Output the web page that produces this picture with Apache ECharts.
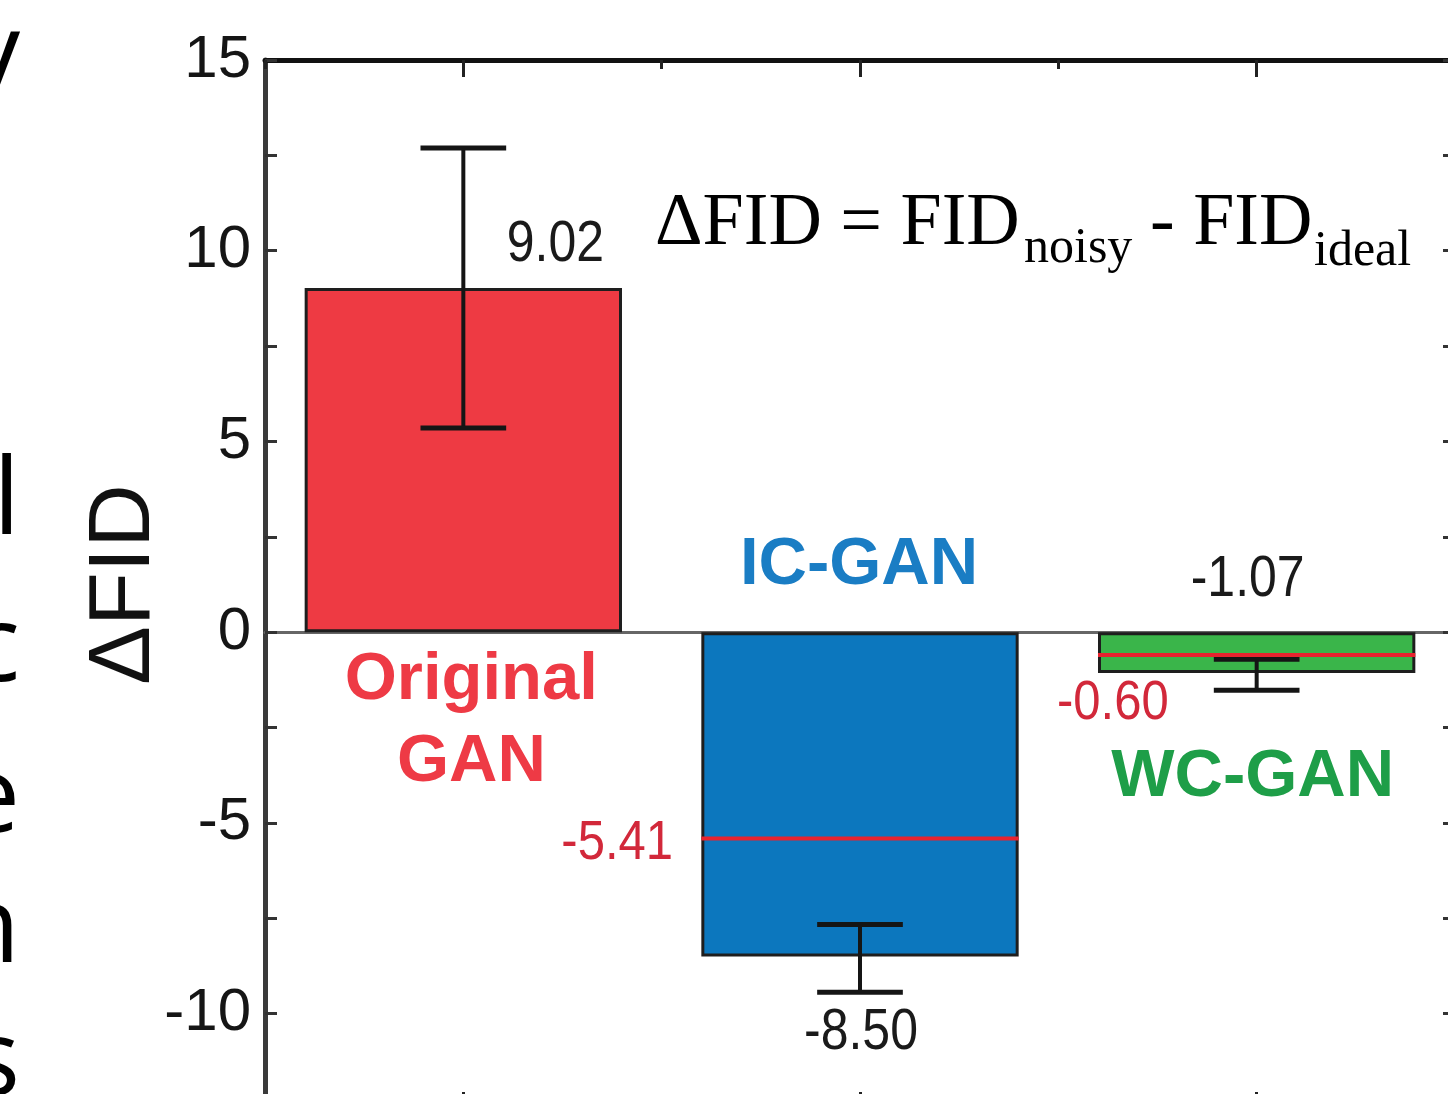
<!DOCTYPE html>
<html>
<head>
<meta charset="utf-8">
<script src="https://cdn.jsdelivr.net/npm/echarts@6/dist/echarts.min.js"></script>
<style>
html,body{margin:0;padding:0;background:#fff;overflow:hidden;width:1448px;height:1094px}
#c{width:1490px;height:1140px}
</style>
</head>
<body>
<div id="c"></div>
<script>
// ---- data ----
const categories = ['Original GAN', 'IC-GAN', 'WC-GAN'];
const deltaFID = [9.02, -8.50, -1.07];
const errLow = [5.35, -9.44, -1.52];
const errHigh = [12.69, -7.66, -0.71];
const refIndex = [1, 2];
const refValues = [-5.41, -0.60];
const valueLabels = ['9.02', '-8.50', '-1.07'];
const refLabels = ['-5.41', '-0.60'];
const categoryLabels = ['Original\nGAN', 'IC-GAN', 'WC-GAN'];
const yMin = -12.5, yMax = 15, yStep = 2.5, yLabelStep = 5;

// ---- styles / layout ----
const barColors = ['#EE3A43', '#0C77BE', '#3AB54A'];
const catColors = ['#EE3A45', '#1A7DC4', '#1E9E48'];
const valueOffset = [[92, -43], [1, 77], [-9, -93]];
const refOffset = [[-187, 5], [-88, 49]];
const catOffset = [[8, 89], [-1, -67], [-4, 145]];
const SANS = 'Arial, "Liberation Sans", sans-serif';
const SERIF = '"Times New Roman", "Liberation Serif", serif';

const chart = echarts.init(document.getElementById('c'), null, {renderer: 'canvas'});

const gridTop = 60, gridLeft = 265;
const plotH = 1049, plotW = 1190;

function xCat(extra) {
  return Object.assign({
    type: 'category', data: categories, gridIndex: 0,
    axisLabel: {show: false}, splitLine: {show: false}
  }, extra);
}

const edgeLetters = [
  {ch: 'y', base: 100}, {ch: 'l', base: 545}, {ch: 'c', base: 692},
  {ch: 'e', base: 843}, {ch: 'n', base: 973}, {ch: 's', base: 1106}
];

const option = {
  animation: false,
  backgroundColor: '#ffffff',
  grid: {left: gridLeft, top: gridTop, width: plotW, height: plotH, containLabel: false},
  xAxis: [
    xCat({position: 'top',
      axisLine: {show: true, onZero: false, lineStyle: {color: '#111', width: 5}},
      axisTick: {show: true, interval: 0, alignWithLabel: true, inside: true, length: 17, lineStyle: {color: '#222', width: 3}}}),
    xCat({position: 'top',
      axisLine: {show: false, onZero: false},
      axisTick: {show: true, interval: 0, alignWithLabel: false, inside: true, length: 9, lineStyle: {color: '#222', width: 3}}}),
    xCat({position: 'bottom',
      axisLine: {show: true, onZero: false, lineStyle: {color: '#111', width: 5}},
      axisTick: {show: true, interval: 0, alignWithLabel: true, inside: true, length: 17, lineStyle: {color: '#222', width: 3}}}),
    xCat({position: 'bottom',
      axisLine: {show: true, onZero: true, lineStyle: {color: '#666', width: 3}},
      axisTick: {show: false}})
  ],
  yAxis: [
    {type: 'value', position: 'left', min: yMin, max: yMax, interval: yStep,
      axisLine: {show: true, onZero: false, lineStyle: {color: '#3a3a3a', width: 5}},
      axisTick: {show: true, inside: true, length: 12, lineStyle: {color: '#333', width: 3}},
      splitLine: {show: false},
      axisLabel: {
        margin: 14, fontSize: 60, fontFamily: SANS, color: '#151515',
        formatter: v => (Math.abs(v % yLabelStep) < 1e-9 ? String(v) : '')
      },
      name: 'ΔFID', nameLocation: 'middle', nameRotate: 90, nameGap: 96,
      nameMoveOverlap: false,
      nameTextStyle: {fontSize: 88, fontFamily: SANS, color: '#111'}
    },
    {type: 'value', position: 'right', min: yMin, max: yMax, interval: yStep,
      axisLine: {show: true, onZero: false, lineStyle: {color: '#3a3a3a', width: 5}},
      axisTick: {show: true, inside: true, length: 12, lineStyle: {color: '#333', width: 3}},
      splitLine: {show: false}, axisLabel: {show: false}
    }
  ],
  series: [
    {
      name: 'ΔFID', type: 'bar', xAxisIndex: 0, yAxisIndex: 0,
      barWidth: '80%', z: 2,
      itemStyle: {borderColor: '#1e1e1e', borderWidth: 3},
      data: deltaFID.map((v, i) => ({value: v, itemStyle: {color: barColors[i]}}))
    },
    {
      name: 'error', type: 'custom', xAxisIndex: 0, yAxisIndex: 0, z: 3,
      encode: {x: 0, y: [1, 2]},
      data: categories.map((c, i) => [i, errLow[i], errHigh[i]]),
      renderItem: function (params, api) {
        const i = api.value(0);
        const lo = api.coord([i, api.value(1)]);
        const hi = api.coord([i, api.value(2)]);
        const half = api.size([1, 0])[0] * 0.108;
        const st = {stroke: '#151515', lineWidth: 4};
        return {type: 'group', children: [
          {type: 'line', shape: {x1: lo[0], y1: lo[1], x2: hi[0], y2: hi[1]}, style: st},
          {type: 'line', shape: {x1: lo[0] - half, y1: lo[1], x2: lo[0] + half, y2: lo[1]}, style: {stroke: '#151515', lineWidth: 5}},
          {type: 'line', shape: {x1: hi[0] - half, y1: hi[1], x2: hi[0] + half, y2: hi[1]}, style: {stroke: '#151515', lineWidth: 5}}
        ]};
      }
    },
    {
      name: 'reference', type: 'custom', xAxisIndex: 0, yAxisIndex: 0, z: 4,
      encode: {x: 0, y: 1},
      data: refIndex.map((ci, k) => [ci, refValues[k]]),
      renderItem: function (params, api) {
        const i = api.value(0);
        const p = api.coord([i, api.value(1)]);
        const half = api.size([1, 0])[0] * 0.4;
        const off = refOffset[params.dataIndex];
        return {type: 'group', children: [
          {type: 'line', shape: {x1: p[0] - half, y1: p[1], x2: p[0] + half, y2: p[1]},
            style: {stroke: '#E8232E', lineWidth: 4}},
          {type: 'text', x: p[0] + off[0], y: p[1] + off[1], scaleY: 1.13,
            style: {text: refLabels[params.dataIndex], x: 0, y: 0, fill: '#D2283A',
              fontSize: 49, fontFamily: SANS, align: 'right', verticalAlign: 'middle'}}
        ]};
      }
    },
    {
      name: 'valueLabels', type: 'custom', xAxisIndex: 0, yAxisIndex: 0, z: 5,
      encode: {x: 0, y: 1},
      data: deltaFID.map((v, i) => [i, v]),
      renderItem: function (params, api) {
        const i = api.value(0);
        const p = api.coord([i, api.value(1)]);
        const base = api.coord([i, 0]);
        const off = valueOffset[params.dataIndex];
        const co = catOffset[params.dataIndex];
        return {type: 'group', children: [
          {type: 'text', x: p[0] + off[0], y: p[1] + off[1], scaleY: 1.13,
            style: {text: valueLabels[params.dataIndex], x: 0, y: 0, fill: '#1a1a1a',
              fontSize: 50, fontFamily: SANS, align: 'center', verticalAlign: 'middle'}},
          {type: 'text', x: base[0] + co[0], y: base[1] + co[1],
            style: {text: categoryLabels[params.dataIndex], x: 0, y: 0, fill: catColors[params.dataIndex],
              fontSize: 67, fontWeight: 'bold', fontFamily: SANS, lineHeight: 82,
              align: 'center', verticalAlign: 'middle'}}
        ]};
      }
    }
  ],
  graphic: {
    elements: [
      {type: 'text', x: 655, y: 250 - 25, style: {text: 'ΔFID = FID', fontSize: 74, fontFamily: SERIF, fill: '#000', align: 'left', verticalAlign: 'middle'}},
      {type: 'text', x: 1024, y: 266 - 17, style: {text: 'noisy', fontSize: 50, fontFamily: SERIF, fill: '#000', align: 'left', verticalAlign: 'middle'}},
      {type: 'text', x: 1150, y: 250 - 25, style: {text: '- FID', fontSize: 74, fontFamily: SERIF, fill: '#000', align: 'left', verticalAlign: 'middle'}},
      {type: 'text', x: 1314, y: 269 - 17, style: {text: 'ideal', fontSize: 50, fontFamily: SERIF, fill: '#000', align: 'left', verticalAlign: 'middle'}}
    ].concat(edgeLetters.map(l => ({
      type: 'text', x: 20, y: l.base - 41,
      style: {text: l.ch, fontSize: 106, fontFamily: '"Open Sans", "Noto Sans", sans-serif', fontWeight: 'normal', fill: '#000', align: 'right', verticalAlign: 'middle'}
    })))
  }
};

chart.setOption(option);
</script>
</body>
</html>
